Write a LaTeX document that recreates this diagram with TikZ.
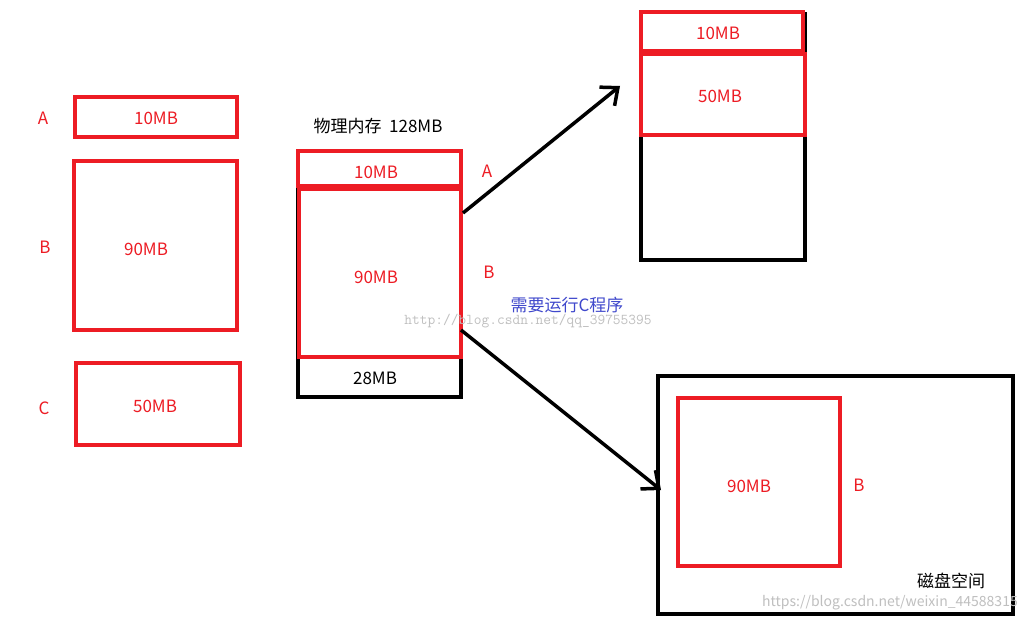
\documentclass[tikz,border=0pt]{standalone}
\usepackage{fontspec}
\setmainfont{Noto Sans CJK SC}
\usetikzlibrary{arrows.meta}
\definecolor{rd}{RGB}{237,28,36}
\definecolor{bl}{RGB}{63,72,204}
\begin{document}
\begin{tikzpicture}[x=1pt,y=-1pt,
 rbox/.style={draw=rd,line width=4pt},
 kbox/.style={draw=black,line width=3.5pt},
 rt/.style={text=rd,font=\fontsize{17}{17}\selectfont},
 kt/.style={text=black,font=\fontsize{17}{17}\selectfont},
 arr/.style={line width=3.5pt,-{Straight Barb[length=14pt,width=24pt,line width=3.5pt]}}]
\useasboundingbox[fill=white] (0,0) rectangle (1035,620);
% left
\draw[rbox] (75,97) rectangle (237,137);
\draw[rbox] (74,161) rectangle (237,330);
\draw[rbox] (76,363) rectangle (240,445);
\node[rt] at (156,118) {10MB};
\node[rt] at (146,249) {90MB};
\node[rt] at (155,406) {50MB};
\node[rt] at (43,118) {A};
\node[rt] at (45,247) {B};
\node[rt] at (44,408) {C};
% middle
\draw[kbox] (298,151) rectangle (461,397);
\draw[rbox] (298,151) rectangle (461,186);
\draw[rbox] (299,189) rectangle (461,357);
\node (m) [rt] at (376,277) {90MB};
\node[rt] at (376,172) {10MB};
\node[kt] at (375,378) {28MB};
\node[kt] at (378,126) {物理内存\ \ 128MB};
\node[rt] at (487,171) {A};
\node[rt] at (489,272) {B};
\node[text=bl,font=\fontsize{17}{17}\selectfont] at (567,305) {需要运行C程序};
\node[text=black!25,font=\ttfamily\fontsize{15}{15}\selectfont] at (528,321) {http://blog.csdn.net/qq\_39755395};
% top right
\draw[kbox] (641,12) -- (641,260) -- (805,260) -- (805,12);
\draw[rbox] (641,12) rectangle (803,51);
\draw[rbox] (641,54) rectangle (805,135);
\node[rt] at (718,33) {10MB};
\node[rt] at (720,96) {50MB};
% bottom right
\draw[kbox] (658,376) rectangle (1013,614);
\draw[rbox] (678,398) rectangle (840,566);
\node[rt] at (749,486) {90MB};
\node[rt] at (859,485) {B};
\node[kt] at (951,581) {磁盘空间};
\node[text=black!25,font=\fontsize{14}{14}\selectfont] at (890,603) {https://blog.csdn.net/weixin\_44588315};
% arrows
\coordinate (a1) at (463,213); \coordinate (a2) at (620,86);
\coordinate (b1) at (461,330); \coordinate (b2) at (661,490);
\draw[arr] (a1) -- (a2);
\draw[arr] (b1) -- (b2);
\end{tikzpicture}
\end{document}
